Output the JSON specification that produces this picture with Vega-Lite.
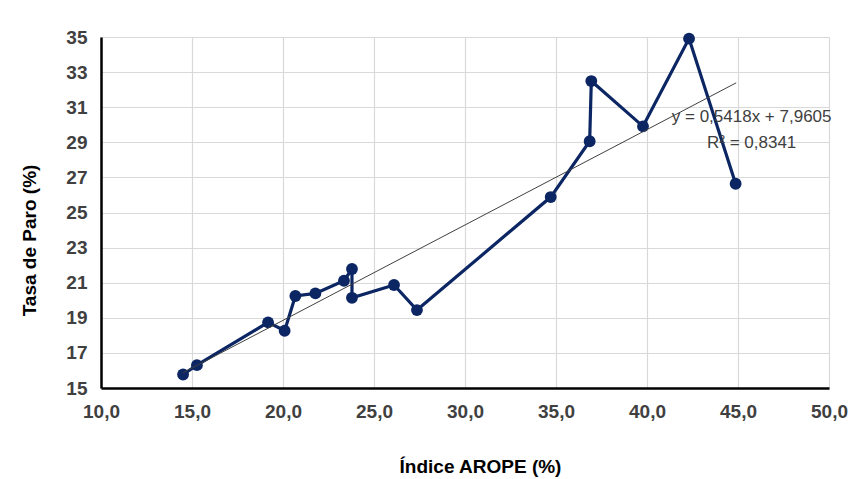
{
  "$schema": "https://vega.github.io/schema/vega-lite/v6.json",
  "width": 728,
  "height": 351,
  "autosize": {"type": "none"},
  "padding": {"left": 101, "top": 37, "right": 28, "bottom": 91},
  "background": "white",
  "config": {
    "view": {"stroke": null},
    "font": "Liberation Sans"
  },
  "datasets": {
    "serie": [
      {"i": 1, "x": 14.51, "y": 15.77},
      {"i": 2, "x": 15.27, "y": 16.30},
      {"i": 3, "x": 19.18, "y": 18.74},
      {"i": 4, "x": 20.09, "y": 18.26},
      {"i": 5, "x": 20.68, "y": 20.24},
      {"i": 6, "x": 21.78, "y": 20.39},
      {"i": 7, "x": 23.35, "y": 21.11},
      {"i": 8, "x": 23.79, "y": 21.78},
      {"i": 9, "x": 23.79, "y": 20.14},
      {"i": 10, "x": 26.10, "y": 20.87},
      {"i": 11, "x": 27.36, "y": 19.44},
      {"i": 12, "x": 34.71, "y": 25.88},
      {"i": 13, "x": 36.85, "y": 29.06},
      {"i": 14, "x": 36.94, "y": 32.49},
      {"i": 15, "x": 39.78, "y": 29.91},
      {"i": 16, "x": 42.31, "y": 34.91},
      {"i": 17, "x": 44.87, "y": 26.64}
    ],
    "etiquetas": [
      {"label": "y = 0,5418x + 7,9605", "x": 45.75, "y": 30.47},
      {"label": "R² = 0,8341", "x": 45.75, "y": 28.98}
    ]
  },
  "encoding": {
    "x": {
      "field": "x",
      "type": "quantitative",
      "scale": {"domain": [10, 50], "nice": false, "zero": false},
      "axis": {
        "title": "Índice AROPE (%)",
        "values": [10, 15, 20, 25, 30, 35, 40, 45, 50],
        "labelExpr": "replace(format(datum.value, '.1f'), '.', ',')",
        "labelFont": "Liberation Sans",
        "labelFontSize": 19,
        "labelFontWeight": "bold",
        "labelColor": "#404040",
        "labelPadding": 14,
        "labelFlush": false,
        "ticks": false,
        "domainColor": "#000000",
        "domainWidth": 2.5,
        "grid": true,
        "gridColor": "#d9d9d9",
        "gridWidth": 1.2,
        "titleFont": "Liberation Sans",
        "titleFontSize": 19,
        "titleFontWeight": "bold",
        "titleColor": "#000000",
        "titleX": 379,
        "titleY": 78,
        "titleBaseline": "middle",
        "titleAnchor": "middle"
      }
    },
    "y": {
      "field": "y",
      "type": "quantitative",
      "scale": {"domain": [15, 35], "nice": false, "zero": false},
      "axis": {
        "title": "Tasa de Paro (%)",
        "values": [15, 17, 19, 21, 23, 25, 27, 29, 31, 33, 35],
        "labelFont": "Liberation Sans",
        "labelFontSize": 19,
        "labelFontWeight": "bold",
        "labelColor": "#404040",
        "labelPadding": 14,
        "labelFlush": false,
        "ticks": false,
        "domainColor": "#000000",
        "domainWidth": 2.5,
        "grid": true,
        "gridColor": "#d9d9d9",
        "gridWidth": 1.2,
        "titleFont": "Liberation Sans",
        "titleFontSize": 19,
        "titleFontWeight": "bold",
        "titleColor": "#000000",
        "titleX": -72,
        "titleY": 203,
        "titleBaseline": "middle",
        "titleAnchor": "middle",
        "titleAngle": -90
      }
    }
  },
  "layer": [
    {
      "data": {"name": "serie"},
      "mark": {"type": "line", "color": "#0b2663", "strokeWidth": 3.2},
      "encoding": {"order": {"field": "i", "type": "quantitative"}}
    },
    {
      "data": {"name": "serie"},
      "mark": {"type": "circle", "color": "#0b2663", "opacity": 1, "size": 140}
    },
    {
      "data": {"name": "serie"},
      "transform": [{"regression": "y", "on": "x", "extent": [14.5, 44.9]}],
      "mark": {"type": "line", "color": "#404040", "strokeWidth": 1}
    },
    {
      "data": {"name": "etiquetas"},
      "mark": {"type": "text", "font": "Liberation Sans", "fontSize": 17, "color": "#404040", "align": "center", "baseline": "middle"},
      "encoding": {"text": {"field": "label", "type": "nominal"}}
    }
  ]
}
